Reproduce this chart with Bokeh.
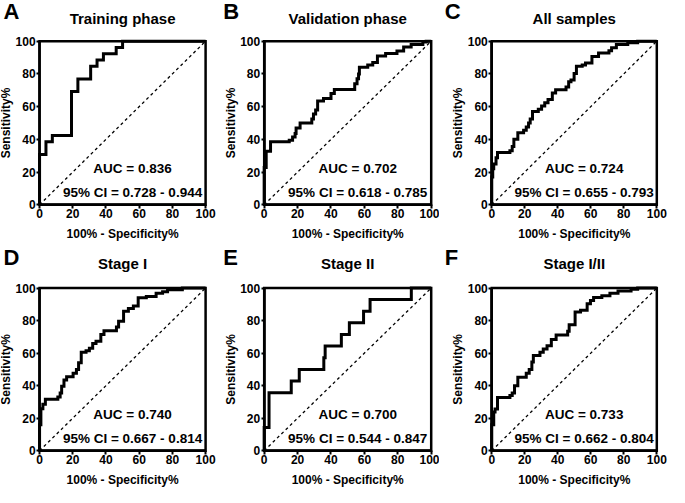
import math
from bokeh.plotting import figure
from bokeh.layouts import column, row
from bokeh.models import Range1d, Label, FixedTicker
from bokeh.embed import file_html
from bokeh.resources import INLINE

# ---------------- data ----------------
letters = ["A", "B", "C", "D", "E", "F"]
titles = ["Training phase", "Validation phase", "All samples",
          "Stage I", "Stage II", "Stage I/II"]
auc_texts = ["AUC = 0.836", "AUC = 0.702", "AUC = 0.724",
             "AUC = 0.740", "AUC = 0.700", "AUC = 0.733"]
ci_texts = ["95% CI = 0.728 - 0.944", "95% CI = 0.618 - 0.785",
            "95% CI = 0.655 - 0.793", "95% CI = 0.667 - 0.814",
            "95% CI = 0.544 - 0.847", "95% CI = 0.662 - 0.804"]
x_label = "100% - Specificity%"
y_label = "Sensitivity%"

# ROC step points: 100% - specificity (x) and sensitivity (y), in %
fpr_A = [0, 0, 3.85, 7.69, 19.23, 23.08, 30.77, 34.62, 38.46, 46.15, 50, 100]
tpr_A = [0, 30.77, 38.46, 42.31, 69.23, 76.92, 84.62, 88.46, 92.31, 96.15, 100, 100]

fpr_B = [0, 0, 1.2, 3.8, 15, 17, 18.5, 19.1, 21.5, 28.5, 29.5, 30.8, 32, 35.5, 40,
         42, 54.2, 55.6, 56.5, 57, 62, 65, 67.8, 72.7, 79.5, 83.5, 88, 95, 97, 100]
tpr_B = [0, 22.8, 32.7, 38.5, 39.5, 41.5, 43.5, 47, 50, 52.5, 55.5, 58, 63.5, 65, 68,
         70.5, 74, 77, 80, 84, 85.5, 87, 91, 92.5, 94, 96.5, 98, 99.5, 100, 100]

fpr_C = [0, 0, 0.6, 1.2, 2.6, 3.5, 11, 12.4, 13.4, 15.8, 19.3, 20.9, 22.3, 23.3, 24.7,
         28.2, 30.2, 32.1, 34.1, 36.7, 38.7, 45, 46.6, 48, 49.9, 51.3, 54.8, 56.8,
         60.7, 64.7, 71, 72.6, 75.5, 82.4, 88.4, 100]
tpr_C = [0, 17, 22, 25, 28.7, 32, 33, 35.6, 40, 44, 45.5, 47.5, 50, 52.5, 57,
         58.4, 60.4, 62.4, 64.4, 68.3, 70.3, 72, 75.2, 76.2, 80.2, 84.6, 85.5, 86.7,
         90.7, 92.7, 94.1, 96, 98, 99, 100, 100]

fpr_D = [0, 0, 0.8, 2, 3.5, 11, 12.4, 13.3, 14.7, 16.3, 20.2, 22.2, 23.5, 25.1, 28,
         30, 32, 34, 36.9, 38.8, 46.3, 47.6, 50.6, 53.5, 56.5, 59.4, 64.3, 70.2,
         74.1, 77.1, 86, 100]
tpr_D = [0, 16, 25.8, 28.6, 31.7, 33, 35.5, 39.7, 43.5, 45.4, 47.6, 50, 54, 60.5, 61.5,
         63, 65.9, 67.3, 71.4, 73.8, 76, 79.6, 85.7, 87.5, 88.9, 94, 94.8, 96.8,
         97.8, 99, 100, 100]

fpr_E = [0, 0, 2.9, 16.2, 21, 35.7, 36.5, 46.2, 51, 59.5, 63.4, 88.1, 100]
tpr_E = [0, 14.3, 35.7, 42.9, 50, 57.1, 64.3, 71.4, 78.6, 85.7, 92.9, 100, 100]

fpr_F = [0, 0, 1.2, 2, 3.5, 11, 12.4, 13.8, 15.8, 20.9, 22.7, 24.3, 25.2, 29.2, 31.2,
         33.5, 36.1, 39, 46, 46.9, 50.5, 53.8, 57.8, 59.8, 61.7, 66.7, 71.6, 76.5,
         84.4, 88.4, 100]
tpr_F = [0, 15.9, 23.8, 25.6, 32.7, 34, 35.5, 40, 45.2, 47.6, 50, 54.6, 58.5, 60.5, 62.5,
         64.5, 68.3, 71.2, 73.4, 77.4, 85.3, 86.3, 90.3, 92.3, 94.2, 95.2, 96.8, 98.2,
         99.2, 100, 100]

curves = [(fpr_A, tpr_A), (fpr_B, tpr_B), (fpr_C, tpr_C),
          (fpr_D, tpr_D), (fpr_E, tpr_E), (fpr_F, tpr_F)]

ticks = [0, 20, 40, 60, 80, 100]
diag_x = [ticks[0], ticks[-1]]
diag_y = [ticks[0], ticks[-1]]

# ---------------- layout geometry (reference pixels, scaled to fit) ----------------
TOTAL_W, TOTAL_H = 669, 487
SX, SY = TOTAL_W / 685.0, TOTAL_H / 503.0
col_edges_ref = [0, 225, 450, 685]
row_edges_ref = [0, 250, 503]
col_box_ref = [(40, 210), (270, 441), (503, 672)]
row_box_ref = [(42, 211), (297, 465)]
ylabel_cx_ref = [6, 236, 468]
letter_left_ref = [3, 228, 455]
letter_cy_ref = [11.5, 265.5]
title_cy_ref = [18.5, 271.5]
xlabel_gap_ref = 30
auc_y, ci_y, text_x = 22.3, 7.5, 56

FONT = "Liberation Sans"


def make_panel(i):
    r, c = divmod(i, 3)
    fl, fr = round(col_edges_ref[c] * SX), round(col_edges_ref[c + 1] * SX)
    ft, fb = round(row_edges_ref[r] * SY), round(row_edges_ref[r + 1] * SY)
    bl, br = col_box_ref[c][0] * SX, col_box_ref[c][1] * SX
    bt, bb = row_box_ref[r][0] * SY, row_box_ref[r][1] * SY
    sx = (br - bl) / 100.0
    sy = (bb - bt) / 100.0

    def dx(px_ref):
        return (px_ref * SX - bl) / sx

    def dy(py_ref):
        return (bb - py_ref * SY) / sy

    p = figure(width=fr - fl, height=fb - ft,
               x_range=Range1d((fl - bl) / sx, (fr - bl) / sx),
               y_range=Range1d((bb - fb) / sy, (bb - ft) / sy),
               output_backend="svg", toolbar_location=None, min_border=0)
    p.grid.visible = False
    p.outline_line_color = None

    for ax in (p.xaxis[0], p.yaxis[0]):
        ax.fixed_location = 0
        ax.bounds = (ticks[0], ticks[-1])
        ax.ticker = FixedTicker(ticks=ticks)
        ax.axis_line_width = 2.5
        ax.axis_line_color = "black"
        ax.major_tick_line_width = 2
        ax.major_tick_line_color = "black"
        ax.major_tick_in = 0
        ax.minor_tick_line_color = None
        ax.major_label_text_font = FONT
        ax.major_label_text_font_style = "bold"
        ax.major_label_text_font_size = "12px"
        ax.major_label_text_color = "black"
    p.xaxis.major_tick_out = 4
    p.xaxis.major_label_standoff = 0
    p.yaxis.major_tick_out = 3
    p.yaxis.major_label_standoff = 1

    # plot box
    p.quad(left=[ticks[0]], right=[ticks[-1]], bottom=[ticks[0]], top=[ticks[-1]],
           fill_color=None, line_color="black", line_width=2.5, line_join="miter")
    # chance line
    p.line(diag_x, diag_y, line_color="black", line_width=1.3, line_dash="3 3")
    # ROC curve
    fx, ty = curves[i]
    p.step(fx, ty, mode="after", line_color="black", line_width=3,
           line_join="miter")

    def lab(x, y, text, size, align="center", angle=0.0):
        p.add_layout(Label(x=x, y=y, text=text, text_align=align,
                           text_baseline="middle", text_font=FONT,
                           text_font_style="bold", text_font_size=size,
                           text_color="black", angle=angle))

    lab(text_x, auc_y, auc_texts[i], "13.5px")
    lab(text_x, ci_y, ci_texts[i], "13.5px")
    lab(dx(letter_left_ref[c]), dy(letter_cy_ref[r]), letters[i], "22px", align="left")
    lab(50, dy(title_cy_ref[r]), titles[i], "15px")
    lab(50, dy(row_box_ref[r][1] + xlabel_gap_ref), x_label, "12px")
    lab(dx(ylabel_cx_ref[c]), 50, y_label, "12px", angle=math.pi / 2)
    return p


panels = [make_panel(i) for i in range(6)]
layout = column(row(panels[0], panels[1], panels[2], spacing=0),
                row(panels[3], panels[4], panels[5], spacing=0),
                spacing=0)

open("out.html", "w").write(file_html(layout, INLINE))
